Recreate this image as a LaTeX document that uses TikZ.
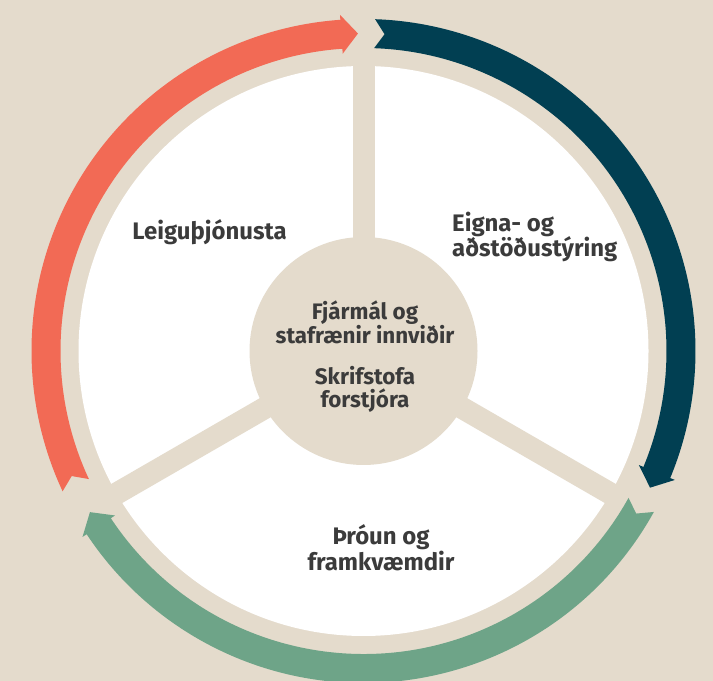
\documentclass[tikz,border=0pt]{standalone}
\usepackage{fontspec}
\setmainfont{Fira Sans}
\usetikzlibrary{positioning}
\definecolor{beige}{HTML}{E4DBCC}
\definecolor{coral}{HTML}{F26A55}
\definecolor{petrol}{HTML}{013F52}
\definecolor{sage}{HTML}{6EA488}
\definecolor{ink}{HTML}{3B3B3B}
\tikzset{
  unit text/.style={font=\bfseries\fontsize{24}{26}\selectfont, text=ink, align=center, inner sep=0pt},
  hub text/.style={font=\bfseries\fontsize{22.5}{23}\selectfont, text=ink, align=center, inner sep=0pt},
  spoke/.style={line width=22bp, draw=beige}
}
\begin{document}
\begin{tikzpicture}[x=1bp,y=1bp]

  \fill [beige] (0,0) rectangle (713,681);
  \useasboundingbox (0,0) rectangle (713,681);

  \begin{scope}[shift={(363.5,330)}]
  \fill [white] (0,0) circle[radius=285];

  \coordinate (s1) at (90:292);
  \coordinate (s2) at (210:292);
  \coordinate (s3) at (330:292);
  \node [circle, fill=beige, minimum size=228bp, inner sep=0pt] (hub) at (0,0) {};
  \draw [spoke] (hub.center) -- (s1);
  \draw [spoke] (hub.center) -- (s2);
  \draw [spoke] (hub.center) -- (s3);

  % ring arrows
  \fill [coral] (205:332) arc[start angle=205, end angle=94, radius=332]
    -- (94:337) -- (91:317.5) -- (94:298) -- (94:303)
    arc[start angle=94, end angle=205, radius=303] -- (203.2:317.5) -- cycle;
  \fill [petrol] (88:332) arc[start angle=88, end angle=-22.5, radius=332]
    -- (-22.5:337) -- (-25.5:317.5) -- (-22.5:298) -- (-22.5:303)
    arc[start angle=-22.5, end angle=88, radius=303] -- (86.2:317.5) -- cycle;
  \fill [sage] (-29:332) arc[start angle=-29, end angle=-146.5, radius=332]
    -- (-146.5:337) -- (-149.5:317.5) -- (-146.5:298) -- (-146.5:303)
    arc[start angle=-146.5, end angle=-29, radius=303] -- (-30.8:317.5) -- cycle;

  \node [unit text] (leigu) at (-154,119) {Leiguþjónusta};
  \node [unit text, align=left, anchor=west] (eigna) at (88.5,114) {Eigna- og\\aðstöðustýring};
  \node [unit text] (throun) at (17.5,-197) {Þróun og\\framkvæmdir};
  \node [hub text] (fjarmal) at (1.5,29) {Fjármál og\\stafrænir innviðir};
  \node [hub text] (skrif) at (1.5,-38) {Skrifstofa\\forstjóra};
  \end{scope}

\end{tikzpicture}
\end{document}
